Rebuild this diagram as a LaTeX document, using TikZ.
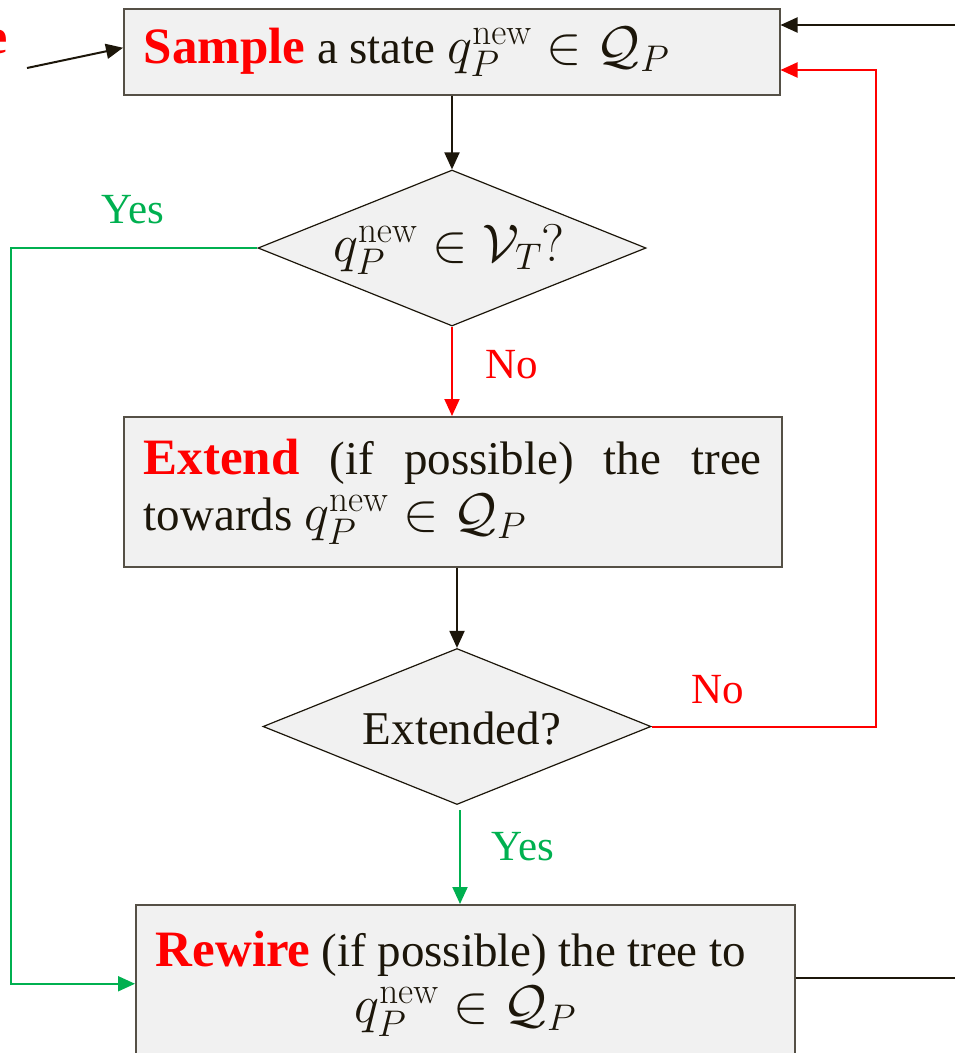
\RequirePackage{fix-cm}
\documentclass[tikz,border=0pt]{standalone}
\usepackage[no-math]{fontspec}
\setmainfont{Liberation Serif}
\usetikzlibrary{shapes.geometric,arrows.meta}
\definecolor{ink}{RGB}{28,22,10}
\definecolor{boxline}{RGB}{85,80,70}
\definecolor{boxfill}{RGB}{241,241,241}
\definecolor{kred}{RGB}{255,0,0}
\definecolor{kgreen}{RGB}{0,176,80}
\hyphenpenalty=10000
\tolerance=10000
% red bold keyword and larger formula setting
\newcommand\kword[1]{\textcolor{kred}{\fontsize{51}{56}\selectfont\bfseries #1}}
\newcommand\qmath[1]{{\fontsize{53}{56}\selectfont$#1$}}
\newcommand\qnew{q_P^{\mathrm{new}}}
\begin{document}
\begin{tikzpicture}[x=1pt,y=-1pt,
  font=\fontsize{47}{56}\selectfont,
  stepbox/.style={draw=boxline, fill=boxfill, line width=1.5pt, inner xsep=20pt,
    inner ysep=0pt, text=ink, anchor=north west},
  test/.style={diamond, draw=ink, fill=boxfill, line width=1.2pt, inner sep=0pt,
    aspect=2.49, minimum width=388pt, minimum height=156pt},
  tip/.style={-{Triangle[length=17pt,width=15pt]}},
  flow/.style={line width=2pt, draw=ink, tip},
  flowred/.style={line width=2pt, draw=kred, tip},
  flowgreen/.style={line width=2pt, draw=kgreen, tip},
  lbl/.style={font=\fontsize{43}{50}\selectfont, inner sep=0pt}]
\useasboundingbox (0,0) rectangle (955,1053);
\clip (0,0) rectangle (955,1053);

% process boxes
\node[stepbox, minimum width=656pt, minimum height=86pt, text width=616pt, align=flush left]
  (sample) at (123,8)
  {\kword{Sample} a state \qmath{\qnew\in\mathcal{Q}_P}};
\node[stepbox, minimum width=658pt, minimum height=150pt, text width=618pt, align=justify]
  (extend) at (123,416)
  {\kword{Extend} (if possible) the tree towards \qmath{\qnew\in\mathcal{Q}_P}};
\node[stepbox, minimum width=659pt, minimum height=158pt, text width=619pt, align=flush center]
  (rewire) at (135,904)
  {\kword{Rewire} (if possible) the tree to\rule{29pt}{0pt}\\ \qmath{\qnew\in\mathcal{Q}_P}};

% decisions
\node[test] (inV) at (452,248) {};
\node[text=ink, inner sep=0pt] (inVt) at ([xshift=-3pt,yshift=-2pt]inV.center)
  {\qmath{\qnew\in\mathcal{V}_T?}};
\node[test] (ext) at (457,726.5) {};
\node[text=ink, inner sep=0pt] (extt) at ([xshift=5pt,yshift=-2pt]ext.center) {Extended?};

% loose ends of connectors
\node[anchor=base east, inner sep=0pt, text=kred, font=\fontsize{50}{56}\selectfont\bfseries]
  (head) at (8,53) {e};
\coordinate (lin) at (27,68);
\coordinate (rin) at (955,25);
\coordinate (rout) at (955,978);
\coordinate (gx) at (11,0);
\coordinate (redin) at (779,70);

% main flow
\draw[flow] (lin) -- ([yshift=4pt]sample.west);
\draw[flow] (rin) -- (rin -| sample.east);
\draw[flow] (inV.north |- sample.south) -- (inV.north);
\draw[flowred] (inV.south) -- (inV.south |- extend.north);
\draw[flow] (ext.north |- extend.south) -- (ext.north);
\draw[flowgreen] ([xshift=3pt,yshift=-5pt]ext.south) -- ([xshift=3pt]ext.south |- rewire.north);
\draw[line width=2pt, draw=ink] (rewire.east |- rout) -- (rout);

% loops back
\draw[flowred] (ext.east) -| ([xshift=97pt]redin) -- (redin -| sample.east);
\draw[flowgreen] (inV.west) -| (gx |- rewire.west) -- (rewire.west);

% branch labels
\node[lbl, text=kgreen] (yes1) at (133,210) {Yes};
\node[lbl, text=kred] (no1) at (512,365) {No};
\node[lbl, text=kred] (no2) at (718,690) {No};
\node[lbl, text=kgreen] (yes2) at (523,847) {Yes};
\end{tikzpicture}
\end{document}
